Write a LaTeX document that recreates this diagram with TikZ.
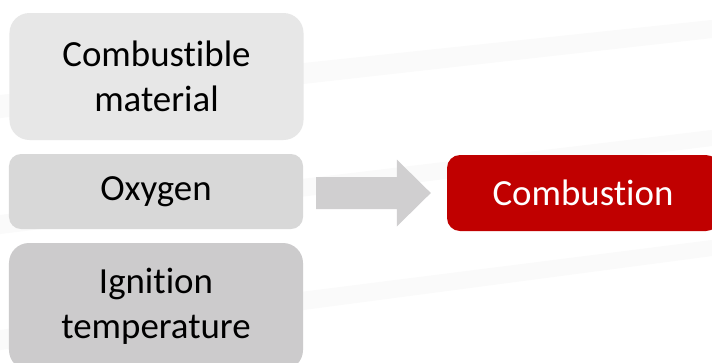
\documentclass[tikz,border=0pt]{standalone}
\usepackage{fontspec}
\setmainfont{Carlito}[Ligatures={NoCommon,NoContextual}]
\usetikzlibrary{calc,positioning}
\definecolor{fuelgray}{HTML}{E7E7E7}
\definecolor{oxgray}{HTML}{D8D8D8}
\definecolor{heatgray}{HTML}{CCCBCC}
\definecolor{arrowgray}{HTML}{D0CFD0}
\definecolor{firered}{HTML}{C00000}
\definecolor{streak}{HTML}{FAFAFA}
\tikzset{factor/.style={rounded corners=#1, inner sep=0pt, align=center,
            minimum width=294bp, font=\fontsize{37}{45}\selectfont}}

\begin{document}
\begin{tikzpicture}[x=1bp,y=-1bp]
        \useasboundingbox (0,0) rectangle (712,362);
        \clip (0,0) rectangle (712,362);
        %
        \fill[white] (0,0) rectangle (712,362);
        \fill[streak] (0,95) -- (712,20) -- (712,38) -- (0,118) -- cycle;
        \fill[streak] (0,215) -- (712,130) -- (712,146) -- (0,234) -- cycle;
        \fill[streak] (0,330) -- (712,240) -- (712,256) -- (0,350) -- cycle;
        %
        \node[factor=20bp, fill=fuelgray, minimum height=127bp] (fuel) at (156.5,76.5) {Combustible\\material};
        \node[factor=12bp, fill=oxgray, minimum height=75bp] (oxy) at (156,191.5) {Oxygen};
        \node[factor=20bp, fill=heatgray, minimum height=127bp] (heat) at (156,306.5) {Ignition\\temperature};
        \node[factor=13bp, fill=firered, text=white, minimum width=272bp, minimum height=76bp] (fire) at (583,193) {Combustion};
        %
        \coordinate (tail) at ($(oxy.east |- fire.west)+(13,0)$);
        \coordinate (tip) at ($(fire.west)+(-16,0)$);
        \fill[arrowgray] ($(tail)+(0,-16)$) -- ($(tip)+(-34,-16)$) -- ($(tip)+(-34,-33.5)$) -- (tip)
            -- ($(tip)+(-34,33.5)$) -- ($(tip)+(-34,16)$) -- ($(tail)+(0,16)$) -- cycle;
    \end{tikzpicture}
\end{document}
